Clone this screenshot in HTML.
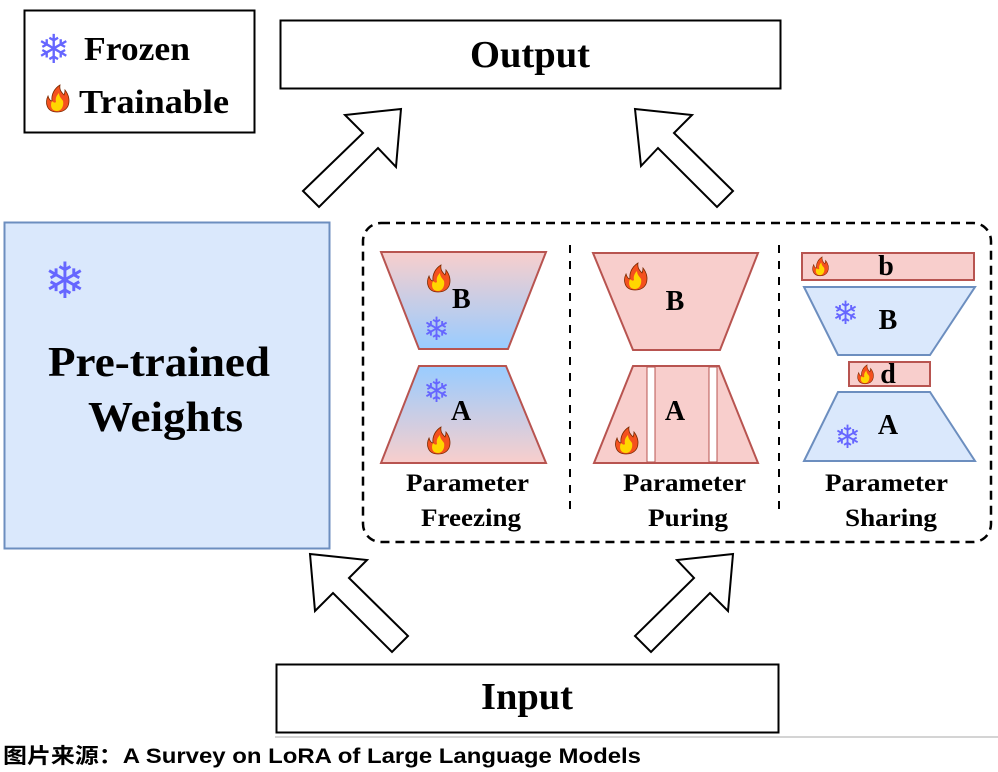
<!DOCTYPE html>
<html><head><meta charset="utf-8"><style>
body{margin:0;background:#fff;width:998px;height:772px;overflow:hidden}
svg{display:block}
.s{font-family:"Liberation Serif",serif;font-weight:bold;fill:#000}
.f{font-family:"DejaVu Sans",sans-serif;fill:#6666ff;font-weight:bold}
</style></head><body>
<svg width="998" height="772" viewBox="0 0 998 772" xmlns="http://www.w3.org/2000/svg">
<defs>
<linearGradient id="gB" x1="0" y1="0" x2="0" y2="1"><stop offset="0" stop-color="#f8cecc"/><stop offset="1" stop-color="#99ccff"/></linearGradient>
<linearGradient id="gA" x1="0" y1="0" x2="0" y2="1"><stop offset="0" stop-color="#99ccff"/><stop offset="1" stop-color="#f8cecc"/></linearGradient>
<g id="fire">
<path d="M0,14 C-11,14 -12,4 -9,-2 C-8,2 -6,3 -5,3 C-6,-4 -2,-10 3,-13 C2,-8 5,-5 7,-3 C8,-5 8,-7 8,-8 C12,-3 13,3 11,8 C9,12 5,14 0,14 Z" fill="#f4511e" stroke="#7a2a00" stroke-width="0.8"/>
<path d="M0,13 C-6,13 -7,7 -5,3 C-3,5 -2,5 -1,4 C-2,0 0,-3 2,-5 C2,-1 5,1 6,3 C7,7 5,13 0,13 Z" fill="#ffd600"/>
</g>
</defs>
<!-- legend -->
<rect x="24.5" y="10.5" width="230" height="122" fill="#fff" stroke="#000" stroke-width="2"/>
<text x="37" y="63" font-size="40" class="f">❄</text>
<text x="84" y="60" class="s" font-size="34" textLength="106" lengthAdjust="spacingAndGlyphs">Frozen</text>
<use href="#fire" transform="translate(57,98)"/>
<text x="79" y="113" class="s" font-size="34" textLength="150" lengthAdjust="spacingAndGlyphs">Trainable</text>
<!-- output -->
<rect x="280.5" y="20.5" width="500" height="68" fill="#fff" stroke="#000" stroke-width="2"/>
<text x="470" y="67" class="s" font-size="38" textLength="120" lengthAdjust="spacingAndGlyphs">Output</text>
<!-- input -->
<rect x="276.5" y="664.5" width="502" height="68" fill="#fff" stroke="#000" stroke-width="2"/>
<text x="481" y="709" class="s" font-size="38" textLength="92" lengthAdjust="spacingAndGlyphs">Input</text>
<line x1="275" y1="737" x2="998" y2="737" stroke="#aaa" stroke-width="1"/>
<!-- arrows -->
<g fill="#fff" stroke="#000" stroke-width="2">
<polygon points="303,191 363,133 345,115 401,109 396,167 378,148 319,207"/>
<polygon points="635,109 692,115 674,133 733,191 717,207 658,148 641,166"/>
<polygon points="310,554 367,560 349,578 408,636 392,652 333,593 315,611"/>
<polygon points="733,554 728,611 710,593 651,652 635,636 694,578 677,560"/>
</g>
<!-- pretrained -->
<rect x="4.5" y="222.5" width="325" height="326" fill="#dae8fc" stroke="#6c8ebf" stroke-width="2"/>
<text x="44" y="298" font-size="50" class="f">❄</text>
<text x="48" y="376" class="s" font-size="42" textLength="222" lengthAdjust="spacingAndGlyphs">Pre-trained</text>
<text x="88" y="431" class="s" font-size="42" textLength="155" lengthAdjust="spacingAndGlyphs">Weights</text>
<!-- dashed container -->
<rect x="363" y="223" width="628" height="319" rx="18" fill="none" stroke="#000" stroke-width="2.5" stroke-dasharray="9,6"/>
<line x1="570" y1="245" x2="570" y2="515" stroke="#000" stroke-width="2" stroke-dasharray="8,8"/>
<line x1="779" y1="245" x2="779" y2="515" stroke="#000" stroke-width="2" stroke-dasharray="8,8"/>
<!-- freezing -->
<polygon points="381,252 546,252 508,349 419,349" fill="url(#gB)" stroke="#b85450" stroke-width="2"/>
<polygon points="419,366 506,366 546,463 381,463" fill="url(#gA)" stroke="#b85450" stroke-width="2"/>
<use href="#fire" transform="translate(438,278)"/>
<text x="452" y="308" class="s" font-size="28">B</text>
<text x="423" y="340" font-size="32" class="f">❄</text>
<text x="423" y="402" font-size="32" class="f">❄</text>
<text x="451" y="420" class="s" font-size="28">A</text>
<use href="#fire" transform="translate(438,440)"/>
<text x="406" y="491" class="s" font-size="25" textLength="123" lengthAdjust="spacingAndGlyphs">Parameter</text>
<text x="421" y="526" class="s" font-size="25" textLength="100" lengthAdjust="spacingAndGlyphs">Freezing</text>
<!-- puring -->
<polygon points="593,253 758,253 720,350 633,350" fill="#f8cecc" stroke="#b85450" stroke-width="2"/>
<polygon points="633,366 719,366 758,463 594,463" fill="#f8cecc" stroke="#b85450" stroke-width="2"/>
<rect x="647" y="367" width="8" height="95" fill="#fff" stroke="#b85450" stroke-width="1"/>
<rect x="709" y="367" width="8" height="95" fill="#fff" stroke="#b85450" stroke-width="1"/>
<use href="#fire" transform="translate(635,276)"/>
<text x="675" y="310" class="s" font-size="28" text-anchor="middle">B</text>
<text x="675" y="420" class="s" font-size="28" text-anchor="middle">A</text>
<use href="#fire" transform="translate(626,440)"/>
<text x="623" y="491" class="s" font-size="25" textLength="123" lengthAdjust="spacingAndGlyphs">Parameter</text>
<text x="648" y="526" class="s" font-size="25" textLength="80" lengthAdjust="spacingAndGlyphs">Puring</text>
<!-- sharing -->
<rect x="802" y="253" width="172" height="27" fill="#f8cecc" stroke="#b85450" stroke-width="2"/>
<use href="#fire" transform="translate(820,266) scale(0.7)"/>
<text x="886" y="275" class="s" font-size="28" text-anchor="middle">b</text>
<polygon points="804,287 975,287 930,355 838,355" fill="#dae8fc" stroke="#6c8ebf" stroke-width="2"/>
<text x="832" y="324" font-size="32" class="f">❄</text>
<text x="888" y="329" class="s" font-size="28" text-anchor="middle">B</text>
<rect x="849" y="362" width="81" height="24" fill="#f8cecc" stroke="#b85450" stroke-width="2"/>
<use href="#fire" transform="translate(865,374) scale(0.7)"/>
<text x="888" y="383" class="s" font-size="28" text-anchor="middle">d</text>
<polygon points="838,392 930,392 975,461 804,461" fill="#dae8fc" stroke="#6c8ebf" stroke-width="2"/>
<text x="834" y="448" font-size="32" class="f">❄</text>
<text x="888" y="434" class="s" font-size="28" text-anchor="middle">A</text>
<text x="825" y="491" class="s" font-size="25" textLength="123" lengthAdjust="spacingAndGlyphs">Parameter</text>
<text x="845" y="526" class="s" font-size="25" textLength="92" lengthAdjust="spacingAndGlyphs">Sharing</text>
<!-- caption -->
<text x="3" y="763" font-size="21" font-weight="bold" font-family="Liberation Sans,'Noto Sans CJK SC',sans-serif" fill="#000" textLength="638" lengthAdjust="spacingAndGlyphs">图片来源：A Survey on LoRA of Large Language Models</text>
</svg>
</body></html>
